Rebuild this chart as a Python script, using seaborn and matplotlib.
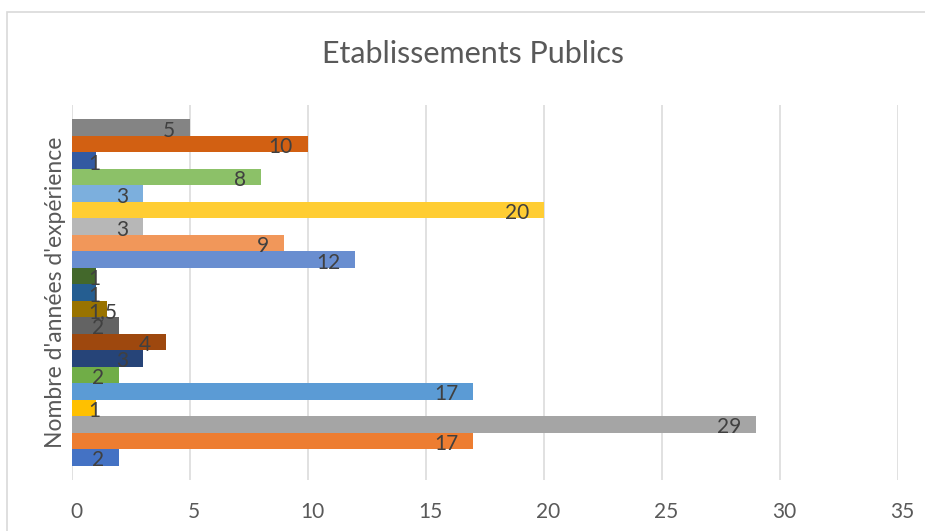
import matplotlib
matplotlib.use("Agg")
import matplotlib.pyplot as plt
from matplotlib.patches import Rectangle
from matplotlib.transforms import ScaledTranslation
import seaborn as sns
import pandas as pd

# ---- data (Excel series order: bottom bar = series 1) ----
categorie = "Etablissements Publics"
series = [f"Série {i}" for i in range(1, 22)]
valeurs = [2, 17, 29, 1, 17, 2, 3, 4, 2, 1.5, 1, 1, 12, 9, 3, 20, 3, 8, 1, 10, 5]
couleurs = ["#4472C4", "#ED7D31", "#A5A5A5", "#FFC000", "#5B9BD5", "#70AD47",
            "#264478", "#9E480E", "#636363", "#997300", "#255E91", "#43682B",
            "#698ED0", "#F1975A", "#B7B7B7", "#FFCD33", "#7CAFDD", "#8CC168",
            "#335AA1", "#D26012", "#848484"]
x_ticks = [0, 5, 10, 15, 20, 25, 30, 35]
titre = "Etablissements Publics"
y_titre = "Nombre d'années d'expérience"

sns.set_theme(style="white")
plt.rcParams["font.family"] = ["Lato", "DejaVu Sans"]

W, H = 925, 531
fig = plt.figure(figsize=(W / 100, H / 100), dpi=100)
ax = fig.add_axes([72 / W, 1 - 480 / H, (898 - 72) / W, (480 - 105) / H])

df = pd.DataFrame({"categorie": [categorie] * len(series),
                   "serie": series, "valeur": valeurs})
sns.barplot(data=df, x="valeur", y="categorie", hue="serie",
            hue_order=series[::-1], palette=dict(zip(series, couleurs)),
            orient="h", dodge=True, width=0.923, errorbar=None,
            legend=False, saturation=1, linewidth=0, ax=ax, zorder=2)

ax.set_xlim(x_ticks[0], x_ticks[-1])
ax.set_ylim(0.5, -0.5)
ax.set_xticks(x_ticks)
ax.set_yticks([])
ax.set_xlabel("")
ax.set_ylabel("")
ax.grid(axis="x", color="#D9D9D9", linewidth=1.1)
ax.set_axisbelow(True)
for s in ax.spines.values():
    s.set_visible(False)
ax.tick_params(axis="x", length=0, pad=16, labelsize=15, labelcolor="#595959")
for lbl in ax.get_xticklabels():
    lbl.set_transform(lbl.get_transform() + ScaledTranslation(4 / 100, 0, fig.dpi_scale_trans))

# data labels (inside end)
for cont in ax.containers:
    for p in cont:
        w = p.get_width()
        yc = p.get_y() + p.get_height() / 2
        txt = f"{w:g}".replace(".", ",")
        if w >= 1.8:
            ax.annotate(txt, (w, yc), xytext=(-15, -3), textcoords="offset pixels",
                        ha="right", va="center", fontsize=15, color="#404040", zorder=3)
        else:
            ax.annotate(txt, (0, yc), xytext=(16, -3), textcoords="offset pixels",
                        ha="left", va="center", fontsize=15, color="#404040", zorder=3)

fig.text(473 / W, 1 - 54 / H, titre, ha="center", va="center",
         fontsize=22, color="#595959")
fig.text(56 / W, 1 - 292 / H, y_titre, ha="center", va="center",
         rotation=90, fontsize=16.5, color="#595959")

fig.add_artist(Rectangle((7 / W, -0.1), 1.2, 1 - 12 / H + 0.1,
                         transform=fig.transFigure, fill=False,
                         edgecolor="#D9D9D9", linewidth=1.2))

fig.savefig("out.png", dpi=100)
